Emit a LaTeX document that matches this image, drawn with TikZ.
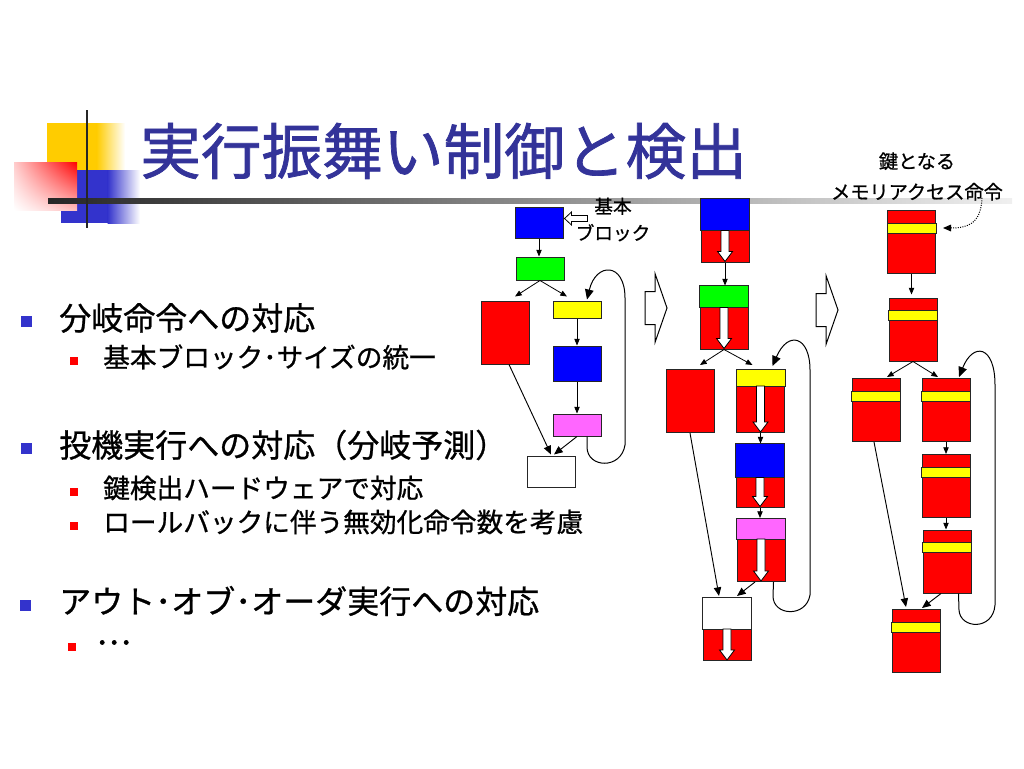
\documentclass[tikz,border=0pt]{standalone}
\usepackage{fontspec}
\newfontfamily\jp[FakeBold=0.8]{Noto Sans CJK JP}
\newfontfamily\jpt[FakeBold=1.2]{Noto Sans CJK JP}
\newfontfamily\jpd[FakeBold=3]{Noto Sans CJK JP}
\usetikzlibrary{arrows.meta,calc,shadings}
\definecolor{titleC}{RGB}{51,51,153}
\definecolor{logoY}{RGB}{255,204,0}
\definecolor{logoB}{RGB}{51,51,204}
\definecolor{bulB}{RGB}{51,51,204}
\definecolor{blueB}{RGB}{0,0,255}
\definecolor{greenB}{RGB}{0,255,0}
\definecolor{yellowB}{RGB}{255,255,0}
\definecolor{redB}{RGB}{255,0,0}
\definecolor{pinkB}{RGB}{255,102,255}
\tikzset{
  blk/.style={draw=black!85, line width=0.75pt, fill=redB, inner sep=0pt, minimum width=36pt, minimum height=47.25pt},
  band/.style={draw=black!85, line width=0.75pt},
  arr/.style={-{Triangle[length=5pt,width=4pt]}, line width=0.6pt},
  larr/.style={-{Triangle[length=6.5pt,width=5.5pt]}, line width=0.7pt},
  looparr/.style={-{Triangle[length=7.5pt,width=6.5pt]}, line width=0.75pt},
  hollow/.style={draw=black, line width=0.75pt, fill=white},
  l1/.style={font=\jp\fontsize{24}{29}\selectfont, anchor=west, inner sep=0pt},
  l2/.style={font=\jp\fontsize{20}{24}\selectfont, anchor=west, inner sep=0pt},
  lab/.style={align=center, inner sep=0pt},
  bu1/.style={fill=bulB, inner sep=0pt, minimum size=8.25pt},
  bu2/.style={fill=redB, inner sep=0pt, minimum size=6.5pt}
}
\newcommand\twoblk[5]{%
  \node[blk] (#1) at (#2,#3) {};
  \filldraw[band, fill=#4] (#1.north west) rectangle ($(#1.north east)+(0,#5)$);
  \filldraw[hollow, line width=0.6pt] ($(#1.north)+(-4,#5)$) -- ($(#1.north)+(4,#5)$)
     -- ($(#1.south)+(4,-11)$) -- ($(#1.south)+(7.5,-11)$) -- ($(#1.south)+(0,-1)$)
     -- ($(#1.south)+(-7.5,-11)$) -- ($(#1.south)+(-4,-11)$) -- cycle;
}
\newcommand\keyblk[3]{%
  \node[blk] (#1) at (#2,#3) {};
  \filldraw[band, fill=yellowB] ($(#1.north west)+(0,13)$) rectangle ($(#1.north east)+(0,23)$);
}
\newcommand\bigarrow[2]{%
  \filldraw[hollow] (#1,#2-16.5) -- (#1+10,#2-16.5) -- (#1+10,#2-34.5) -- (#1+22,#2)
     -- (#1+10,#2+34.5) -- (#1+10,#2+16.5) -- (#1,#2+16.5) -- cycle;
}
\begin{document}
\begin{tikzpicture}[x=0.75pt,y=-0.75pt]
\useasboundingbox (0,0) rectangle (1024,768);
\fill[white] (0,0) rectangle (1024,768);

% ---- logo ----
\fill[logoY] (47,123) rectangle (97,170);
\shade[left color=logoY, right color=white] (96.5,123) rectangle (125,170);
\fill[logoB] (61,170) rectangle (108,223);
\shade[left color=logoB, right color=white] (107.5,170) rectangle (140,223);
\shade[upper right=redB, upper left=redB!20, lower right=redB!25, lower left=white] (14,162) rectangle (77,210);
\shade[left color=black!85, middle color=black!45, right color=black!6] (48,198.5) rectangle (1012,203);
\draw[black!85, line width=2.2pt] (87,110) -- (87,228);

% ---- title ----
\node[font=\jpt\fontsize{45.5}{54}\selectfont, text=titleC, anchor=west, inner sep=0pt] (title) at (140,151) {実行振舞い制御と検出};

% ---- bullets ----
\node[bu1] (b1m) at (26,321) {};
\node[l1] (t1) at (59,318) {分岐命令への対応};
\node[bu2] (b2m) at (74,361) {};
\node[l2] (t2) at (103,357) {基本ブロック･サイズの統一};
\node[bu1] (b3m) at (26,448) {};
\node[l1] (t3) at (59,445) {投機実行への対応（分岐予測）};
\node[bu2] (b4m) at (74,492) {};
\node[l2] (t4) at (103,488) {鍵検出ハードウェアで対応};
\node[bu2] (b5m) at (74,526) {};
\node[l2] (t5) at (103,522) {ロールバックに伴う無効化命令数を考慮};
\node[bu1] (b6m) at (25,605) {};
\node[l1] (t6) at (59,601) {アウト･オブ･オーダ実行への対応};
\node[bu2] (b7m) at (72,647) {};
\node[font=\jpd\fontsize{18}{22}\selectfont, anchor=west, inner sep=0pt] (t7) at (96,646) {･･･};

% ---- diagram 1 ----
\node[blk, fill=blueB, minimum height=23.25pt] (b1) at (539,222.5) {};
\node[blk, fill=greenB, minimum height=17.25pt] (g1) at (540,268.5) {};
\node[blk, fill=redB, minimum height=47.25pt] (r1) at (505,332.5) {};
\node[blk, fill=yellowB, minimum height=12.75pt] (y1) at (577,309.5) {};
\node[blk, fill=blueB, minimum height=26.25pt] (bb1) at (577,363.5) {};
\node[blk, fill=pinkB, minimum height=16.5pt] (p1) at (577,425) {};
\node[blk, fill=white, minimum height=23.25pt] (w1) at (551,471.5) {};

\node[lab, font=\jp\fontsize{14}{20}\selectfont] (kb) at (613,219.5) {基本\\ブロック};
\filldraw[hollow, line width=0.6pt] ($(b1.east)+(1,-4)$) -- ($(b1.east)+(8,-10.5)$) -- ($(b1.east)+(8,-7)$)
   -- ($(b1.east)+(24,-7)$) -- ($(b1.east)+(24,-1)$) -- ($(b1.east)+(8,-1)$) -- ($(b1.east)+(8,2.5)$) -- cycle;

\draw[arr] (b1.south) -- (b1.south |- g1.north);
\draw[arr] (g1.south) -- ($(r1.north)+(10,-4)$);
\draw[arr] (g1.south) -- ($(y1.north)+(-10,-4)$);
\draw[arr] (y1.south) -- (bb1.north);
\draw[arr] (bb1.south) -- (p1.north);
\draw[larr] ($(r1.south)+(4,0)$) -- ($(w1.north)+(0,-1)$);
\draw[larr] (p1.south) -- ($(w1.north)+(3,-1)$);
\draw[looparr] ($(p1.south)+(10,0)$) -- (587,447) .. controls (587,468) and (621,470) .. (625,445)
   -- (625,298) .. controls (625,262) and (596,262) .. ($(y1.north)+(10,-1)$);

\bigarrow{645}{308}

% ---- diagram 2 ----
\twoblk{A}{725}{230.5}{blueB}{32}
\twoblk{B}{724}{317.5}{greenB}{22}
\node[blk] (C) at (690,401) {};
\twoblk{D}{760.5}{401}{yellowB}{17}
\twoblk{E}{760}{475.5}{blueB}{34}
\twoblk{F}{761}{550}{pinkB}{21}
\twoblk{G}{727}{629}{white}{32}

\draw[arr] (A.south) -- (A.south |- B.north);
\draw[arr] (B.south) -- ($(C.north)+(10,-4)$);
\draw[arr] (B.south) -- ($(D.north)+(-8,-4)$);
\draw[arr] (D.south) -- (D.south |- E.north);
\draw[arr] (E.south) -- (E.south |- F.north);
\draw[larr] (C.south) -- ($(G.north)+(-8,-1)$);
\draw[larr] ($(F.south)+(-6,0)$) -- ($(G.north)+(10,-1)$);
\draw[looparr] ($(F.south east)+(-12,0)$) -- (773,596) .. controls (773,616) and (806,618) .. (810,595)
   -- (810,370) .. controls (810,336) and (788,330) .. ($(D.north)+(12,-3)$);

\bigarrow{816}{310}

% ---- diagram 3 ----
\node[lab, font=\jp\fontsize{14.4}{23}\selectfont] (km) at (917,176.5) {鍵となる\\メモリアクセス命令};
\keyblk{K1}{911.5}{242}
\keyblk{K2}{913}{329.5}
\keyblk{K3}{876}{410}
\keyblk{K4}{946}{410}
\keyblk{K5}{946}{486}
\keyblk{K6}{947}{561.5}
\keyblk{K7}{916}{641}

\draw[densely dotted, line width=0.75pt, -{Triangle[length=6pt,width=5pt]}] ($(km.south)+(65,-3)$) .. controls (981,225) and (966,228) .. ($(K1.east)+(7,-14)$);
\draw[arr] (K1.south) -- ($(K1.south |- K2.north)+(0,-3)$);
\draw[arr] (K2.south) -- ($(K3.north)+(11,-1)$);
\draw[arr] (K2.south) -- ($(K4.north)+(-8,-1)$);
\draw[arr] (K4.south) -- (K4.south |- K5.north);
\draw[arr] (K5.south) -- (K5.south |- K6.north);
\draw[larr] ($(K3.south)+(-2,0)$) -- ($(K7.north)+(-10,-2)$);
\draw[larr] ($(K6.south)+(-6,0)$) -- ($(K7.north)+(6,-1)$);
\draw[looparr] ($(K6.south east)+(-13,0)$) -- (959,610) .. controls (960,629) and (993,631) .. (995,605)
   -- (995,385) .. controls (995,345) and (973,342) .. ($(K4.north)+(13,-1)$);
\end{tikzpicture}
\end{document}
